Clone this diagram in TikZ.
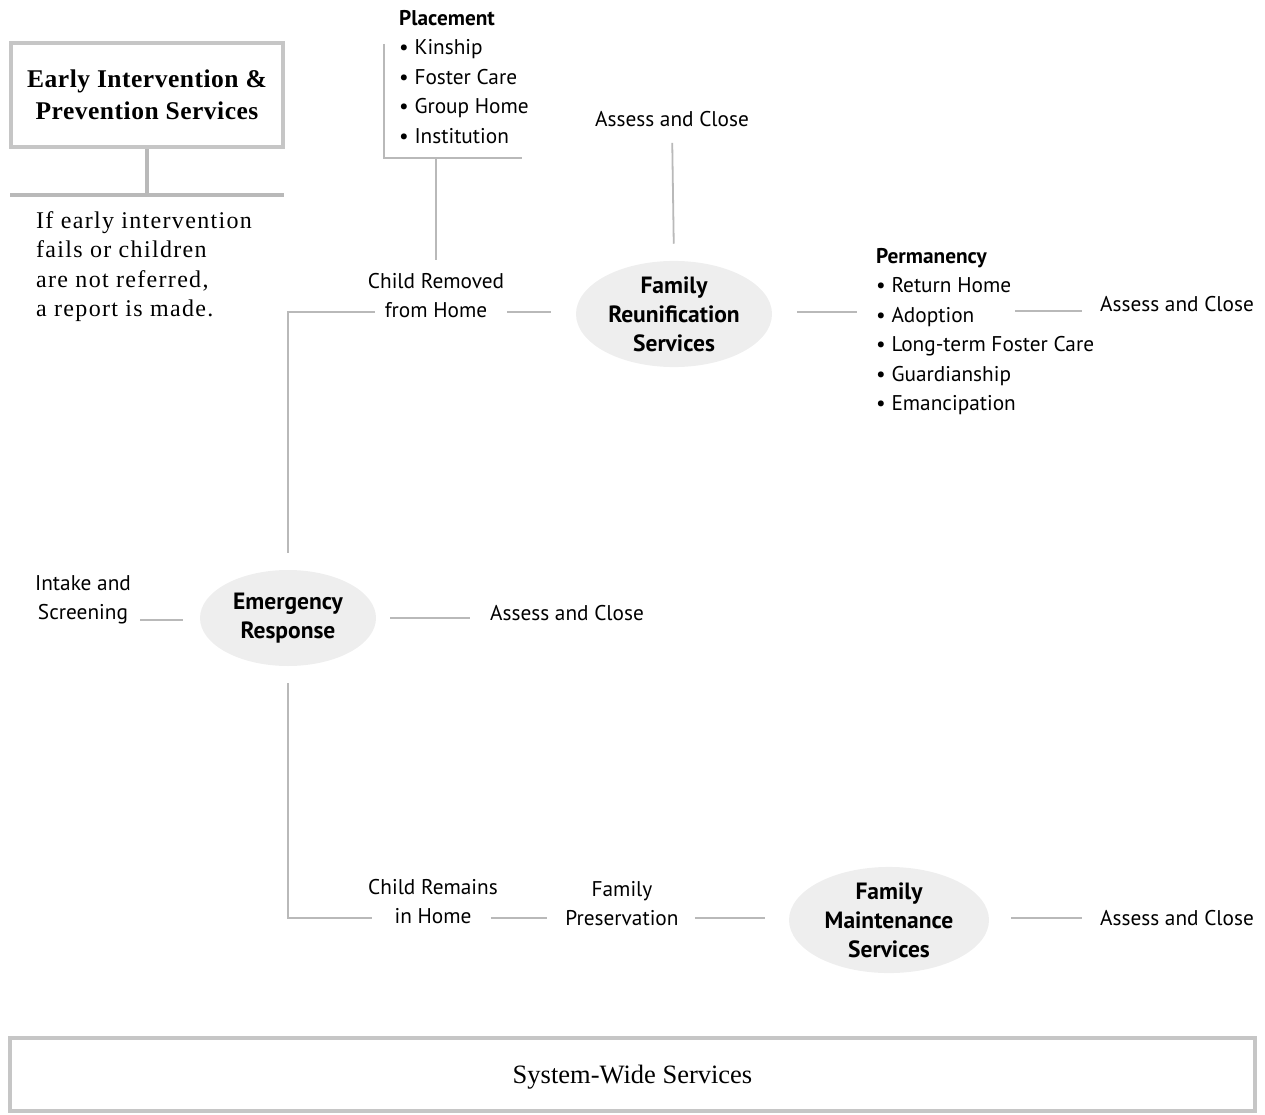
\documentclass[tikz,border=0pt]{standalone}
\usepackage{fontspec}
\setmainfont{Liberation Serif}
\setsansfont{PT Sans}
\usetikzlibrary{shapes.geometric}
\tikzset{
	link/.style={draw=gray!55, line width=1.8pt},
	frame/.style={draw=gray!45, line width=4.5pt},
	hub/.style={ellipse, fill=gray!13, align=center, inner sep=0pt, font=\sffamily\bfseries\fontsize{23.5}{29}\selectfont},
	lbl/.style={align=center, inner sep=0pt, font=\sffamily\fontsize{21.3}{29}\selectfont},
	lst/.style={align=left, inner sep=0pt, anchor=north west, font=\sffamily\fontsize{21.3}{29.5}\selectfont},
}
\begin{document}
\begin{tikzpicture}[x=1pt,y=-1pt]
		
		\useasboundingbox (0,0) rectangle (1265,1115);
		
		\node[frame, minimum width=272pt, minimum height=104pt, align=center, font=\bfseries\fontsize{25.5}{32}\selectfont\addfontfeatures{LetterSpace=2}] (early) at (147,95) {Early Intervention \&\\Prevention Services};
		\coordinate (ruleL) at (10,195);
		\coordinate (ruleR) at (284,195);
		\draw[link, line width=3.5pt] (ruleL) -- (ruleR);
		\draw[link, line width=3.5pt] (early.south) -- (early.south |- ruleL);
		\node[anchor=north west, align=left, inner sep=0pt, font=\fontsize{24}{29.5}\selectfont\addfontfeatures{LetterSpace=5.5}] (fails) at (36,211) {If early intervention\\fails or children\\are not referred,\\a report is made.};
		
		\node[lst] (place) at (399,10) {\textbf{Placement}\\• Kinship\\• Foster Care\\• Group Home\\• Institution};
		\coordinate (brTop) at (384,44);
		\coordinate (brBot) at (384,158);
		\coordinate (brEnd) at (522,158);
		\draw[link] (brTop) -- (brBot) -- (brEnd);
		
		\node[lbl] (removed) at (436,296) {Child Removed\\from Home};
		\node[hub, minimum width=196pt, minimum height=104pt] (reunif) at (674,314) {Family\\Reunification\\Services};
		\node[lbl] (close1) at (672,119) {Assess and Close};
		\node[lst] (perm) at (876,248) {\textbf{Permanency}\\• Return Home\\• Adoption\\• Long-term Foster Care\\• Guardianship\\• Emancipation};
		\coordinate (permOut) at (1015,311);
		\node[lbl] (close2) at (1177,304) {Assess and Close};
		
		\node[lbl] (intake) at (83,600) {Intake and\\Screening};
		\node[hub, minimum width=176pt, minimum height=96pt] (emerg) at (288,618) {Emergency\\Response};
		\node[lbl] (close3) at (567,613) {Assess and Close};
		
		\node[lbl] (remains) at (433,902) {Child Remains\\in Home};
		\node[lbl] (preserv) at (622,904) {Family\\Preservation};
		\node[hub, minimum width=200pt, minimum height=104pt] (maint) at (889,920) {Family\\Maintenance\\Services};
		\node[lbl] (close4) at (1177,918) {Assess and Close};
		
		\draw[link, shorten >=14pt] (brBot -| removed.north) -- (removed.north);
		\draw[link, shorten <=16pt, shorten >=17pt] (close1.south) -- (reunif.north);
		\draw[link, shorten >=17pt] ([xshift=7pt,yshift=-16pt]removed.west) -| (emerg.north);
		\draw[link, shorten <=3pt, shorten >=25pt] ([yshift=-16pt]removed.east) -- ([yshift=-16pt]removed.east -| reunif.west);
		\draw[link, shorten <=25pt, shorten >=19pt] ([yshift=2pt]reunif.east) -- ([yshift=2pt]reunif.east -| perm.west);
		\draw[link, shorten >=18pt] (permOut) -- (permOut -| close2.west);
		
		\draw[link, shorten <=9pt, shorten >=17pt] ([yshift=-20pt]intake.east) -- ([yshift=-20pt]intake.east -| emerg.west);
		\draw[link, shorten <=14pt, shorten >=20pt] (emerg.east) -- (emerg.east -| close3.west);
		\draw[link, shorten <=17pt] (emerg.south) |- ([xshift=4pt,yshift=-16pt]remains.west);
		\draw[link, shorten >=18pt] ([xshift=-7pt,yshift=-16pt]remains.east) -- ([yshift=-16pt]remains.east -| preserv.west);
		\draw[link, shorten <=16pt, shorten >=24pt] ([yshift=-14pt]preserv.east) -- ([yshift=-14pt]preserv.east -| maint.west);
		\draw[link, shorten <=22pt, shorten >=18pt] ([yshift=2pt]maint.east) -- ([yshift=2pt]maint.east -| close4.west);
		
		\node[frame, minimum width=1245pt, minimum height=73pt, text height=24pt, font=\fontsize{26.5}{30}\selectfont] (system) at (632.5,1074.5) {System-Wide Services};
		
	\end{tikzpicture}
\end{document}
